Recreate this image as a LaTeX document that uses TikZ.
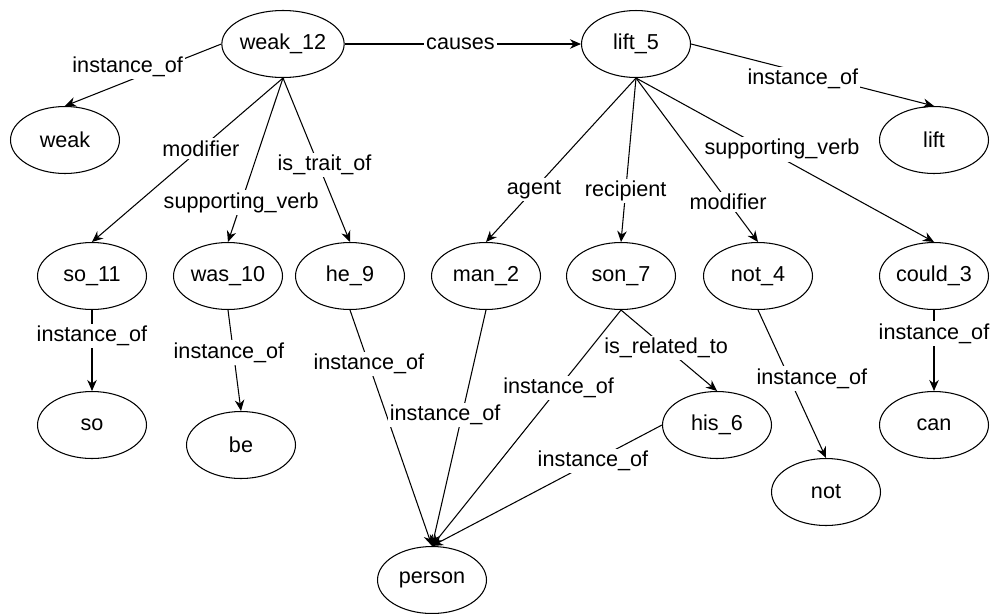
\documentclass[tikz,border=0pt]{standalone}
\usepackage{fontspec}
\setmainfont{Liberation Sans}
\usetikzlibrary{shapes.geometric}
\usetikzlibrary{arrows.meta}

\begin{document}
\begin{tikzpicture}[x=0.02cm, y=-0.02cm, line width=0.6pt,
    concept/.style={draw, ellipse, minimum width=2.18cm, minimum height=1.34cm,
        inner sep=0pt, font=\fontsize{12.3}{15}\selectfont},
    rel/.style={-{Stealth[length=2.2mm, width=1.9mm]}},
    lbl/.style={fill=white, inner sep=1.2pt, font=\fontsize{12.3}{15}\selectfont}]

\useasboundingbox (0,0) rectangle (990,613);

% top row
\node[concept] (weak12) at (283,44) {weak\_12};
\node[concept] (lift5) at (636,44) {lift\_5};
\node[concept] (weak) at (65,140) {weak};
\node[concept] (lift) at (934,140) {lift};

% middle row
\node[concept] (so11) at (92,276) {so\_11};
\node[concept] (was10) at (228,276) {was\_10};
\node[concept] (he9) at (350,276) {he\_9};
\node[concept] (man2) at (486,276) {man\_2};
\node[concept] (son7) at (621,276) {son\_7};
\node[concept] (not4) at (758,276) {not\_4};
\node[concept] (could3) at (934,276) {could\_3};

% lower nodes
\node[concept] (so) at (92,425) {so};
\node[concept] (be) at (241,445) {be};
\node[concept] (his6) at (717,425) {his\_6};
\node[concept] (can) at (934,425) {can};
\node[concept] (not) at (826,492) {not};
\node[concept] (person) at (432,580) {person};

% relations of weak_12
\draw[rel] (weak12.west) -- node[lbl, pos=.57, xshift=-.09cm, yshift=.25cm] {instance\_of} (weak.north);
\draw[rel] (weak12.east) -- node[lbl, pos=.49] {causes} (lift5.west);
\draw[rel] (weak12.south) -- node[lbl, pos=.43] {modifier} (so11.north);
\draw[rel] (weak12.south) -- node[lbl, pos=.76] {supporting\_verb} (was10.north);
\draw[rel] (weak12.south) -- node[lbl, pos=.53, xshift=.12cm] {is\_trait\_of} (he9.north);

% relations of lift_5
\draw[rel] (lift5.east) -- node[lbl, pos=.46, yshift=-.13cm] {instance\_of} (lift.north);
\draw[rel] (lift5.south) -- node[lbl, pos=.68] {agent} (man2.north);
\draw[rel] (lift5.south) -- node[lbl, pos=.69] {recipient} (son7.north);
\draw[rel] (lift5.south) -- node[lbl, pos=.755] {modifier} (not4.north);
\draw[rel] (lift5.south) -- node[lbl, pos=.49, yshift=.18cm] {supporting\_verb} (could3.north);

% instances
\draw[rel] (so11.south) -- node[lbl, pos=.32] {instance\_of} (so.north);
\draw[rel] (was10.south) -- node[lbl, pos=.42, xshift=-.09cm] {instance\_of} (be.north);
\draw[rel] (could3.south) -- node[lbl, pos=.29] {instance\_of} (can.north);
\draw[rel] (not4.south) -- node[lbl, pos=.52, xshift=.37cm, yshift=.17cm] {instance\_of} (not.north);
\draw[rel] (son7.south) -- node[lbl, pos=.47] {is\_related\_to} (his6.north);

% everything that is a person
\draw[rel] (he9.south) -- node[lbl, pos=.23] {instance\_of} (person.north);
\draw[rel] (man2.south) -- node[lbl, pos=.46, xshift=-.32cm, yshift=.07cm] {instance\_of} (person.north);
\draw[rel] (son7.south) -- node[lbl, pos=.33] {instance\_of} (person.north);
\draw[rel] (his6.west) -- node[lbl, pos=.3] {instance\_of} (person.north);
\end{tikzpicture}
\end{document}
